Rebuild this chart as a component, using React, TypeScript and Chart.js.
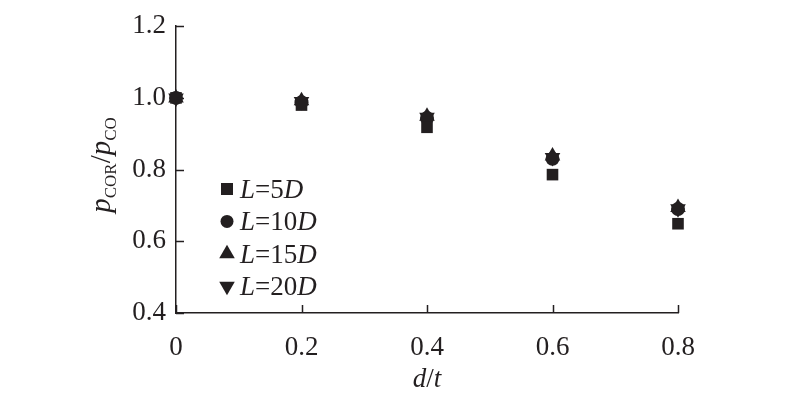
import React, { useEffect, useRef } from 'react';
import { Chart, registerables } from 'chart.js';

Chart.register(...registerables);

// ---- data ----
const xValues = [0, 0.2, 0.4, 0.6, 0.8];
const seriesL5D = [1.0, 0.98, 0.918, 0.786, 0.649];
const seriesL10D = [1.0, 0.988, 0.944, 0.83, 0.69];
const seriesL15D = [1.0, 0.992, 0.949, 0.838, 0.694];
const seriesL20D = [1.0, 0.99, 0.946, 0.834, 0.691];
const legendNumbers = ['5', '10', '15', '20'];
const xTicks = [0, 0.2, 0.4, 0.6, 0.8];
const yTicks = [0.4, 0.6, 0.8, 1.0, 1.2];

const INK = '#231f20';
const FAMILY = "'Liberation Serif', 'Times New Roman', serif";

type Seg = { t: string; it?: boolean; size: number; dy?: number };

function drawRich(ctx: CanvasRenderingContext2D, segs: Seg[], x: number, y: number, align: 'left' | 'center') {
  let total = 0;
  const widths = segs.map((s) => {
    ctx.font = `${s.it ? 'italic ' : ''}${s.size}px ${FAMILY}`;
    const w = ctx.measureText(s.t).width;
    total += w;
    return w;
  });
  let cx = align === 'center' ? x - total / 2 : x;
  ctx.textBaseline = 'alphabetic';
  ctx.textAlign = 'left';
  segs.forEach((s, i) => {
    ctx.font = `${s.it ? 'italic ' : ''}${s.size}px ${FAMILY}`;
    ctx.fillText(s.t, cx, y + (s.dy || 0));
    cx += widths[i];
  });
}

function markerPath(ctx: CanvasRenderingContext2D, style: string, x: number, y: number) {
  ctx.beginPath();
  if (style === 'rect') {
    ctx.rect(x - 6, y - 6, 12, 12);
  } else if (style === 'circle') {
    ctx.arc(x, y, 6.5, 0, Math.PI * 2);
  } else if (style === 'tri') {
    const r = 9;
    ctx.moveTo(x, y - r);
    ctx.lineTo(x + r * 0.866, y + r * 0.5);
    ctx.lineTo(x - r * 0.866, y + r * 0.5);
    ctx.closePath();
  } else {
    const r = 9;
    ctx.moveTo(x, y + r);
    ctx.lineTo(x + r * 0.866, y - r * 0.5);
    ctx.lineTo(x - r * 0.866, y - r * 0.5);
    ctx.closePath();
  }
  ctx.fill();
}

const decorPlugin = {
  id: 'decor',
  afterDraw(chart: any) {
    const ctx: CanvasRenderingContext2D = chart.ctx;
    const xs = chart.scales.x;
    const ys = chart.scales.y;
    const area = chart.chartArea;
    ctx.save();
    ctx.strokeStyle = INK;
    ctx.fillStyle = INK;
    ctx.lineWidth = 1.5;
    // inward tick marks
    ctx.beginPath();
    xs.ticks.forEach((t: any) => {
      const px = Math.round(xs.getPixelForValue(t.value)) + 0.5;
      ctx.moveTo(px, area.bottom);
      ctx.lineTo(px, area.bottom - 8);
    });
    ys.ticks.forEach((t: any) => {
      const py = Math.round(ys.getPixelForValue(t.value)) + 0.5;
      ctx.moveTo(area.left, py);
      ctx.lineTo(area.left + 8, py);
    });
    ctx.stroke();

    // legend
    const styles = ['rect', 'circle', 'tri', 'dtri'];
    const legX = 227;
    const legY0 = 189;
    const step = 32.4;
    legendNumbers.forEach((n, i) => {
      const cy = legY0 + i * step;
      markerPath(ctx, styles[i], legX, cy);
      drawRich(
        ctx,
        [
          { t: 'L', it: true, size: 27 },
          { t: '=' + n, size: 27 },
          { t: 'D', it: true, size: 27 },
        ],
        240,
        cy + 9,
        'left'
      );
    });

    // x title
    drawRich(
      ctx,
      [
        { t: 'd', it: true, size: 27 },
        { t: '/', size: 27 },
        { t: 't', it: true, size: 27 },
      ],
      427,
      387,
      'center'
    );

    // y title
    ctx.translate(110, 165);
    ctx.rotate(-Math.PI / 2);
    drawRich(
      ctx,
      [
        { t: 'p', it: true, size: 29 },
        { t: 'COR', size: 17, dy: 6 },
        { t: '/', size: 29 },
        { t: 'p', it: true, size: 29 },
        { t: 'CO', size: 17, dy: 6 },
      ],
      0,
      0,
      'center'
    );
    ctx.restore();
  },
};

export default function App() {
  const ref = useRef<HTMLCanvasElement>(null);
  useEffect(() => {
    document.body.style.margin = '0';
    const mk = (label: string, vals: number[], pointStyle: string, radius: number, rotation = 0) => ({
      label,
      data: xValues.map((x, i) => ({ x, y: vals[i] })),
      pointStyle,
      pointRadius: radius,
      pointRotation: rotation,
      backgroundColor: INK,
      borderColor: INK,
      borderWidth: 0,
      showLine: false,
      clip: false,
    });
    const chart = new Chart(ref.current as HTMLCanvasElement, {
      type: 'scatter',
      data: {
        datasets: [
          mk('L=5D', seriesL5D, 'rect', 8.2),
          mk('L=10D', seriesL10D, 'circle', 7),
          mk('L=15D', seriesL15D, 'triangle', 9),
          mk('L=20D', seriesL20D, 'triangle', 9, 180),
        ] as any,
      },
      options: {
        animation: false,
        responsive: false,
        devicePixelRatio: 1,
        layout: { padding: { left: 0, right: 122, top: 17, bottom: 0 } },
        plugins: { legend: { display: false }, tooltip: { enabled: false } },
        scales: {
          x: {
            type: 'linear',
            min: 0,
            max: 0.8,
            afterBuildTicks: (s: any) => {
              s.ticks = xTicks.map((v) => ({ value: v }));
            },
            afterFit: (s: any) => {
              s.height = 82;
            },
            grid: { display: false, drawTicks: false },
            border: { display: true, color: INK, width: 1.5 },
            ticks: {
              padding: 19,
              color: INK,
              font: { family: FAMILY, size: 27 },
              maxRotation: 0,
              callback: (v: any) => (Math.abs(v) < 1e-9 ? '0' : Number(v).toFixed(1)),
            },
          },
          y: {
            type: 'linear',
            min: 0.4,
            max: 1.2,
            afterBuildTicks: (s: any) => {
              s.ticks = yTicks.map((v) => ({ value: v }));
            },
            afterFit: (s: any) => {
              s.width = 176;
            },
            grid: { display: false, drawTicks: false },
            border: { display: true, color: INK, width: 1.5 },
            ticks: {
              padding: 10,
              color: INK,
              font: { family: FAMILY, size: 27 },
              callback: (v: any) => Number(v).toFixed(1),
            },
          },
        },
      },
      plugins: [decorPlugin],
    } as any);
    return () => chart.destroy();
  }, []);
  return (
    <div style={{ width: 800, height: 395, background: '#fff' }}>
      <canvas ref={ref} width={800} height={395} style={{ display: 'block' }} />
    </div>
  );
}
